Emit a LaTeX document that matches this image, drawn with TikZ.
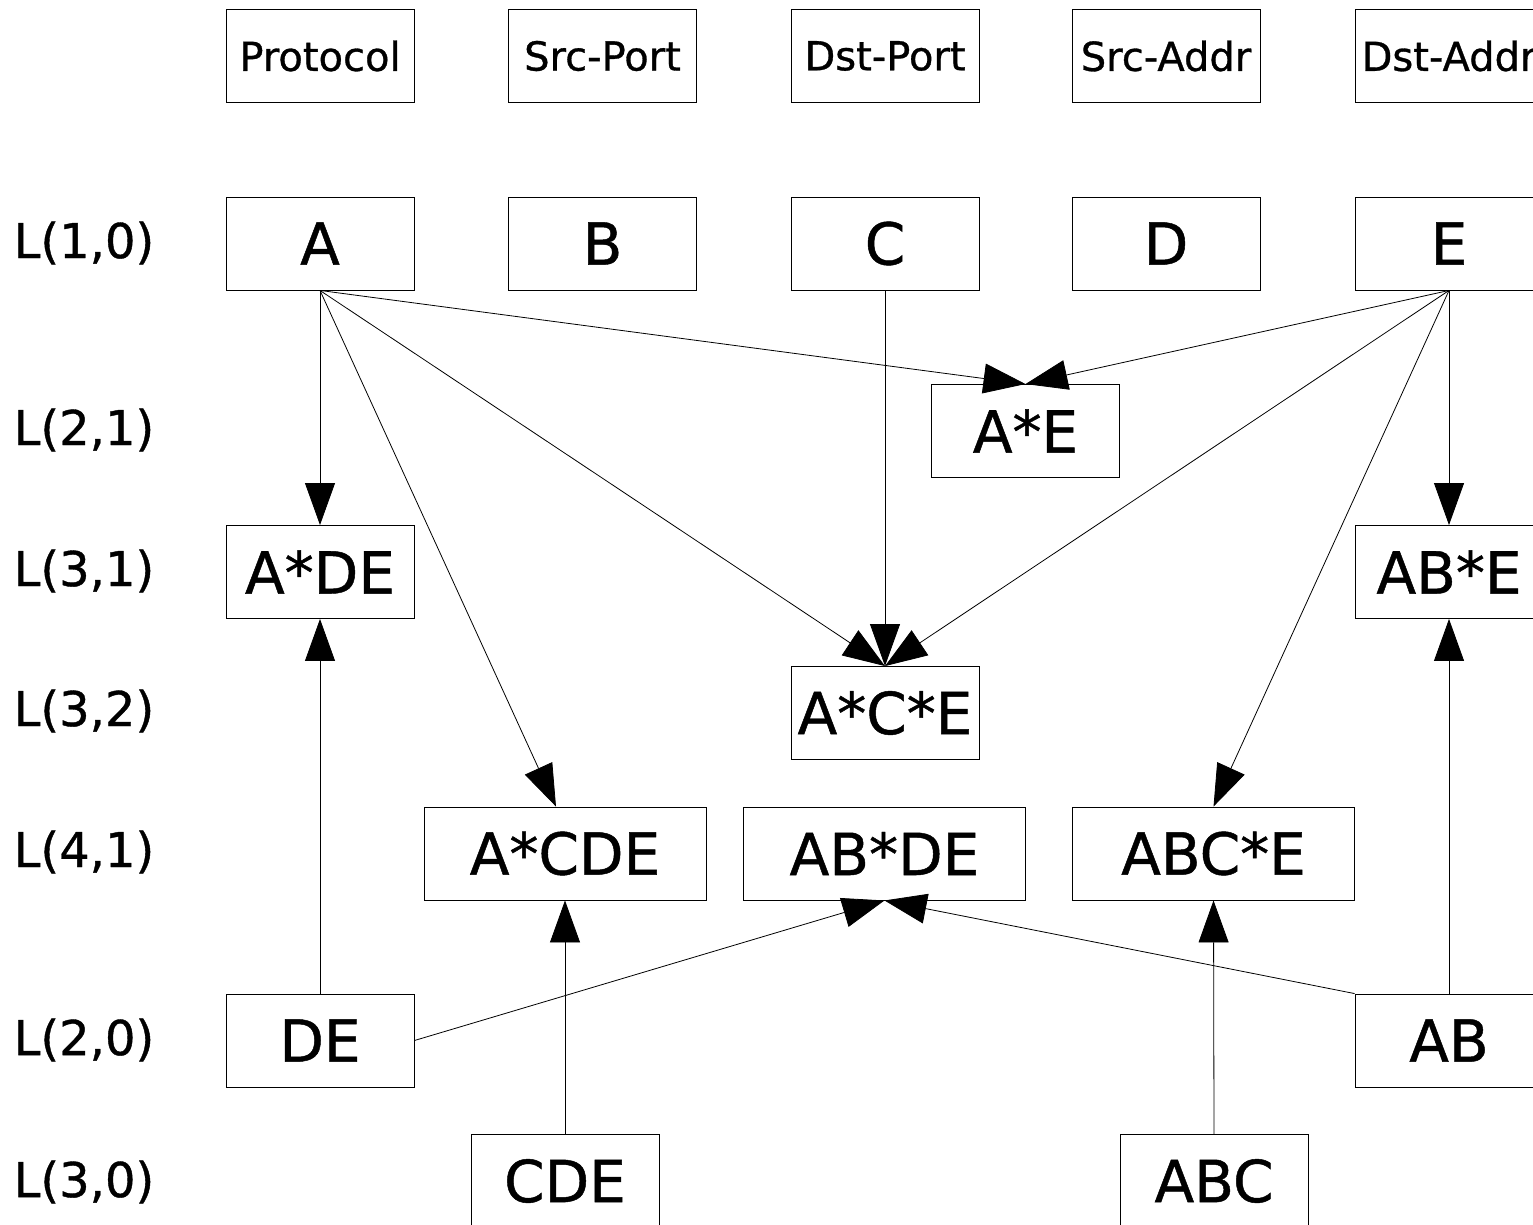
\documentclass[tikz,border=0pt]{standalone}
\usepackage{fontspec}
\setmainfont{DejaVu Sans}[BoldFont={DejaVu Sans},BoldFeatures={FakeBold=0.8}]
\usetikzlibrary{arrows.meta,calc}
\begin{document}
\begin{tikzpicture}[x=1pt,y=-1pt,
  nbox/.style={draw,line width=0.9pt,rectangle,inner sep=0pt,minimum width=188pt,minimum height=93pt,font=\bfseries\fontsize{58}{62}\selectfont},
  wbox/.style={nbox,minimum width=282pt},
  hbox/.style={nbox,font=\bfseries\fontsize{40}{44}\selectfont},
  lvl/.style={inner sep=0pt,font=\bfseries\fontsize{48}{52}\selectfont},
  edge/.style={line width=0.8pt,-{Triangle[length=42pt,width=30pt]}},
  plain/.style={line width=0.8pt}]
\useasboundingbox (0,0) rectangle (1533,1225);
\clip (0,0) rectangle (1533,1225);
\fill[white] (0,0) rectangle (1533,1225);
% header row
\node[hbox] (hP) at (320,56) {Protocol};
\node[hbox] (hSP) at (602.5,56) {Src-Port};
\node[hbox] (hDP) at (885,56) {Dst-Port};
\node[hbox] (hSA) at (1166,56) {Src-Addr};
\node[hbox] (hDA) at (1449,56) {Dst-Addr};
% level labels
\node[lvl] (l10) at (84,243) {L(1,0)};
\node[lvl] (l21) at (84,430) {L(2,1)};
\node[lvl] (l31) at (84,571) {L(3,1)};
\node[lvl] (l32) at (84,711) {L(3,2)};
\node[lvl] (l41) at (84,852) {L(4,1)};
\node[lvl] (l20) at (84,1040) {L(2,0)};
\node[lvl] (l30) at (84,1182) {L(3,0)};
% row 1
\node[nbox] (A) at (320,243.5) {A};
\node[nbox] (B) at (602.5,243.5) {B};
\node[nbox] (C) at (885,243.5) {C};
\node[nbox] (D) at (1166,243.5) {D};
\node[nbox] (E) at (1449,243.5) {E};
% others
\node[nbox] (AE) at (1025.5,431) {A*E};
\node[nbox] (ADE) at (320,572) {A*DE};
\node[nbox] (ABE) at (1449,572) {AB*E};
\node[nbox] (ACE) at (885,713) {A*C*E};
\node[wbox] (ACDE) at (565,853.5) {A*CDE};
\node[wbox] (ABDE) at (884.5,853.5) {AB*DE};
\node[wbox] (ABCE) at (1213.5,853.5) {ABC*E};
\node[nbox] (DE) at (320,1040.5) {DE};
\node[nbox] (AB) at (1449,1040.5) {AB};
\node[nbox] (CDE) at (565,1181) {CDE};
\node[nbox] (ABC) at (1214,1181) {ABC};
% edges
\draw[edge] (A.south) -- (ADE.north);
\draw[edge] (A.south) -- ($(ACDE.north)+(-9,0)$);
\draw[edge] (A.south) -- (ACE.north);
\draw[edge] (A.south) -- (AE.north);
\draw[edge] (C.south) -- (ACE.north);
\draw[edge] (E.south) -- (AE.north);
\draw[edge] (E.south) -- (ACE.north);
\draw[edge] (E.south) -- (ABCE.north);
\draw[edge] (E.south) -- (ABE.north);
\draw[edge] (DE.north) -- (ADE.south);
\draw[edge] (DE.east) -- (ABDE.south);
\draw[edge] (CDE.north) -- (ACDE.south);
\draw[edge] (ABC.north) -- (ABCE.south);
\draw[edge] (AB.north west) -- (ABDE.south);
\draw[edge] (AB.north) -- (ABE.south);
\end{tikzpicture}
\end{document}
